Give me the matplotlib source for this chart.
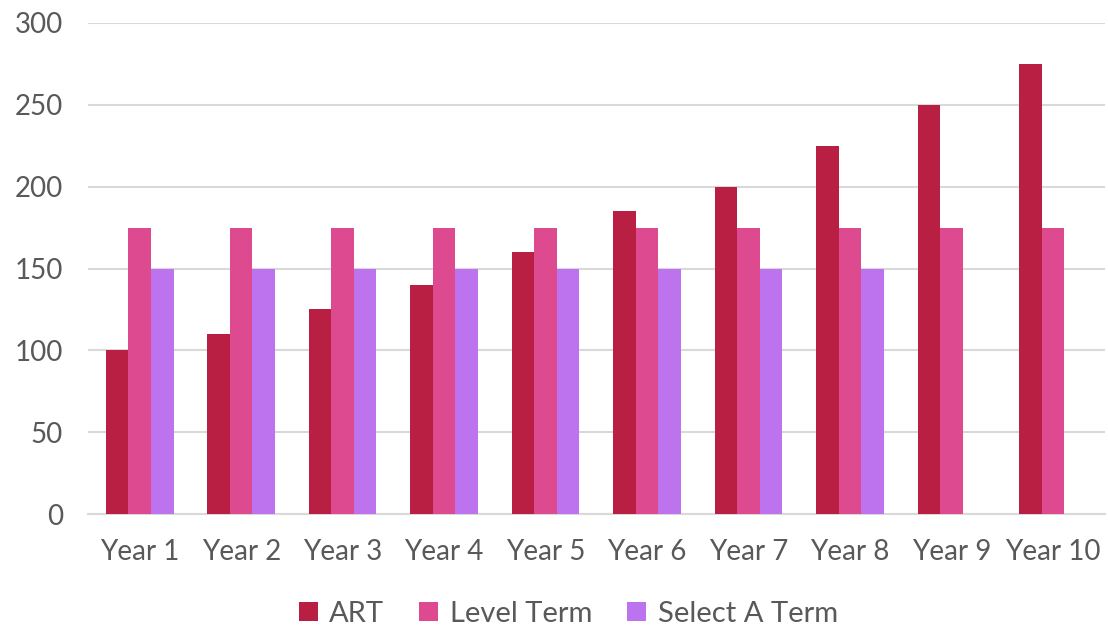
import numpy as np
import matplotlib.pyplot as plt

categories = ['Year 1', 'Year 2', 'Year 3', 'Year 4', 'Year 5',
              'Year 6', 'Year 7', 'Year 8', 'Year 9', 'Year 10']
art = [100, 110, 125, 140, 160, 185, 200, 225, 250, 275]
level_term = [175, 175, 175, 175, 175, 175, 175, 175, 175, 175]
select_a_term = [150, 150, 150, 150, 150, 150, 150, 150, np.nan, np.nan]
yticks = [0, 50, 100, 150, 200, 250, 300]


def main():
    plt.rcParams['font.family'] = ['Lato', 'DejaVu Sans']
    fig = plt.figure(figsize=(11.08, 6.28), dpi=100)
    ax = fig.add_axes([0.0794, 0.1815, 0.9176, 0.7819])

    x = np.arange(len(categories))
    w = 0.222
    ax.bar(x - w, art, w, color='#B91F43', label='ART', zorder=3)
    ax.bar(x, level_term, w, color='#DE4A8F', label='Level Term', zorder=3)
    ax.bar(x + w, select_a_term, w, color='#BD72EE', label='Select A Term', zorder=3)

    ax.set_xlim(-0.51, len(categories) - 0.49)
    ax.set_ylim(0, 300)
    ax.set_yticks(yticks)
    ax.set_xticks(x)
    ax.set_xticklabels(categories)
    ax.grid(axis='y', color='#d9d9d9', linewidth=1.5, zorder=0)
    ax.tick_params(axis='both', length=0, labelsize=20, labelcolor='#595959')
    ax.tick_params(axis='y', pad=18)
    ax.tick_params(axis='x', pad=18)
    for s in ['top', 'right', 'left']:
        ax.spines[s].set_visible(False)
    ax.spines['bottom'].set_color('#d9d9d9')
    ax.spines['bottom'].set_linewidth(1.5)

    leg = fig.legend(loc='lower center', bbox_to_anchor=(0.513, -0.04), ncol=3,
                     frameon=False, fontsize=21, handlelength=0.65, handleheight=0.65,
                     handletextpad=0.4, columnspacing=1.2)
    for t in leg.get_texts():
        t.set_color('#595959')

    fig.savefig('out.png', dpi=100)


if __name__ == "__main__":
    main()
